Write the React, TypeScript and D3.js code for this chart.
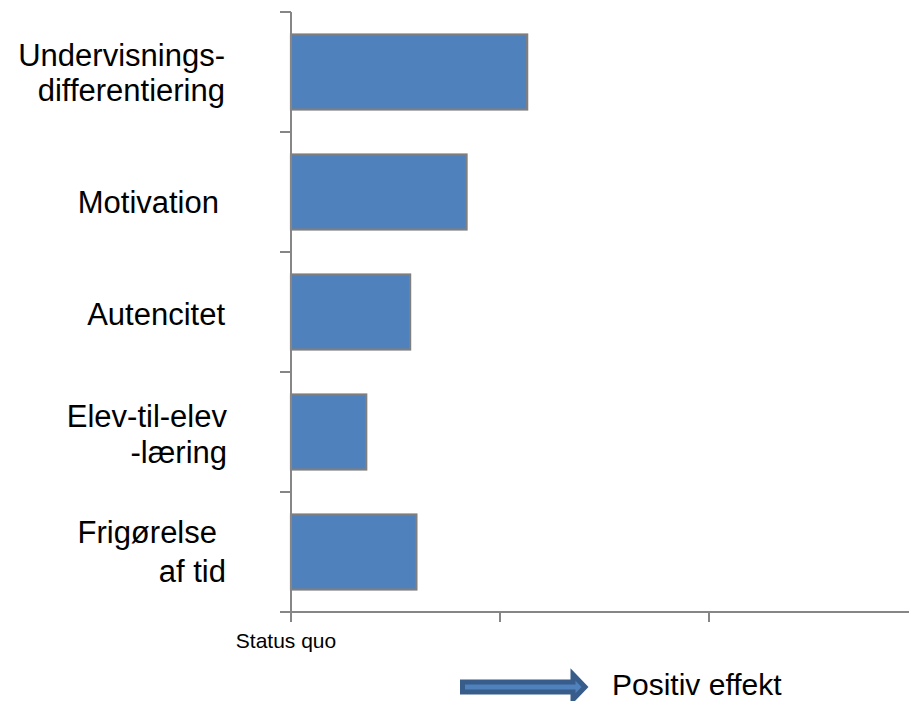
import React from "react";
import * as d3 from "d3";

const categories = [
  "Undervisningsdifferentiering",
  "Motivation",
  "Autencitet",
  "Elev-til-elev-læring",
  "Frigørelse af tid",
];
const labelLines = [
  ["Undervisnings-", "differentiering"],
  ["Motivation"],
  ["Autencitet"],
  ["Elev-til-elev", "-læring"],
  ["Frigørelse", "af tid"],
];
const values = [1.13, 0.84, 0.57, 0.36, 0.6];
const xTicks = [0, 1, 2, 3];
const xTickLabels = ["Status quo", "", "", ""];
const arrowLabel = "Positiv effekt";

const W = 909;
const H = 701;
const AXIS = "#868686";
const FONT = "'Liberation Sans', Arial, sans-serif";

export default function App() {
  const x = d3.scaleLinear().domain([0, 3]).range([291, 918]);
  const y = d3
    .scaleBand<string>()
    .domain(categories)
    .range([12, 612])
    .paddingInner(0.375)
    .paddingOuter(0.1875);
  const step = y.step();
  const boundaries = d3.range(categories.length + 1).map((i) => 12 + i * step);
  const x0 = x(0);
  const yBottom = 612;

  const labelDy = [-6, 21, 13, -5, -9];
  const labelRight = [225, 219, 225, 227, 226];
  const lineRight = [[225, 225], [219], [225], [227, 227], [217, 226]];
  const lineGap = [35, 0, 0, 36, 39];

  const arrowPath = (() => {
    const cy = 687;
    const l = 462.5;
    const hs = 573;
    const tip = 585;
    const bh = 5;
    const hh = 12.5;
    const p = d3.path();
    p.moveTo(l, cy - bh);
    p.lineTo(hs, cy - bh);
    p.lineTo(hs, cy - hh);
    p.lineTo(tip, cy);
    p.lineTo(hs, cy + hh);
    p.lineTo(hs, cy + bh);
    p.lineTo(l, cy + bh);
    p.closePath();
    return p.toString();
  })();

  return (
    <svg
      width={W}
      height={H}
      style={{ position: "absolute", left: 0, top: 0, background: "#fff" }}
      fontFamily={FONT}
    >
      {categories.map((c, i) => (
        <rect
          key={c}
          x={x0}
          y={y(c)}
          width={x(values[i]) - x0}
          height={y.bandwidth()}
          fill="#4F81BD"
          stroke="#7F7F7F"
          strokeWidth={2.2}
        />
      ))}
      <line x1={x0} x2={x0} y1={12} y2={yBottom + 10} stroke={AXIS} strokeWidth={2} />
      {boundaries.map((b, i) => (
        <line key={i} x1={x0 - 11} x2={x0} y1={b} y2={b} stroke={AXIS} strokeWidth={2} />
      ))}
      <line x1={x0 - 10} x2={x(3)} y1={yBottom} y2={yBottom} stroke={AXIS} strokeWidth={2} />
      {xTicks.map((t) => (
        <line key={t} x1={x(t)} x2={x(t)} y1={yBottom} y2={yBottom + 10} stroke={AXIS} strokeWidth={2} />
      ))}
      {xTicks.map((t, i) =>
        xTickLabels[i] ? (
          <text key={"l" + t} x={x(t) - 5} y={648} fontSize={21} textAnchor="middle" fill="#000">
            {xTickLabels[i]}
          </text>
        ) : null
      )}
      {categories.map((c, i) => {
        const cy = (y(c) as number) + y.bandwidth() / 2;
        const lines = labelLines[i];
        return (
          <g key={"cl" + c}>
            {lines.length === 1 ? (
              <text x={labelRight[i]} y={cy + labelDy[i]} fontSize={31} textAnchor="end" fill="#000">
                {lines[0]}
              </text>
            ) : (
              lines.map((ln, j) => (
                <text
                  key={j}
                  x={lineRight[i][j]}
                  y={cy + labelDy[i] + j * lineGap[i]}
                  fontSize={31}
                  textAnchor="end"
                  fill="#000"
                >
                  {ln}
                </text>
              ))
            )}
          </g>
        );
      })}
      <path d={arrowPath} fill="#4F81BD" stroke="#385D8A" strokeWidth={5} strokeLinejoin="miter" />
      <text x={612} y={695} fontSize={30} fill="#000">
        {arrowLabel}
      </text>
    </svg>
  );
}
